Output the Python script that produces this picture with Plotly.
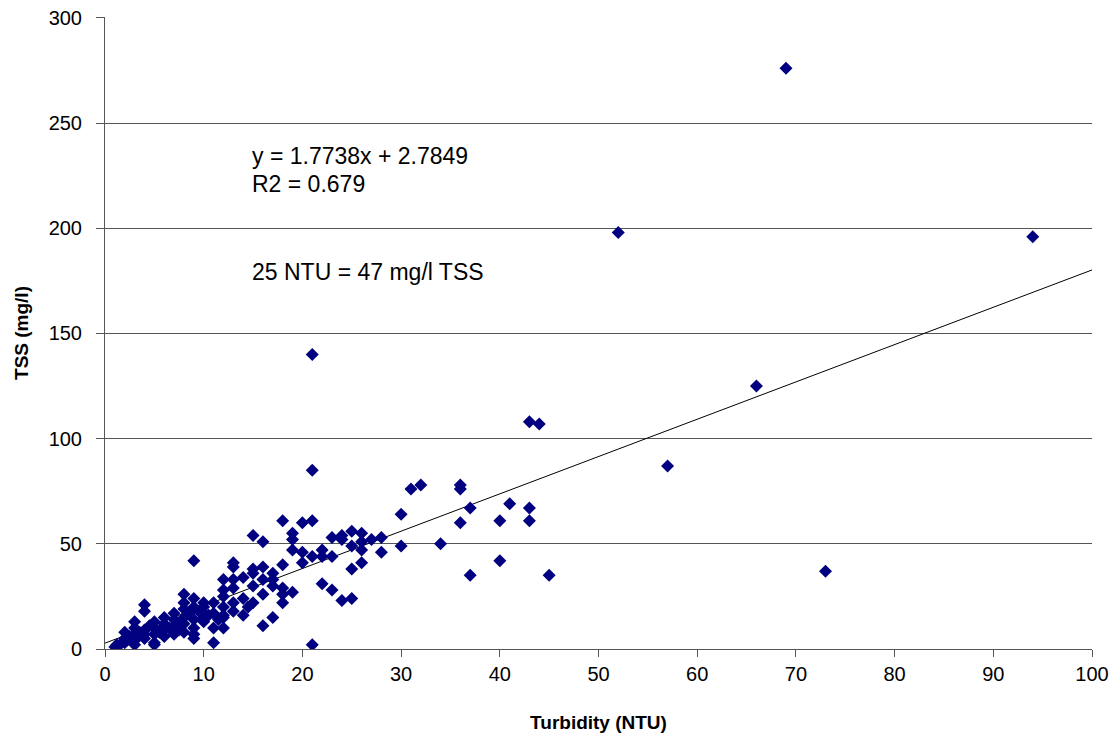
import plotly.graph_objects as go

turbidity = [69, 52, 94, 21, 66, 43, 44, 57, 21, 73, 45, 37, 40, 21, 34, 30, 30, 31, 32, 36, 36, 36, 37, 40, 41, 43, 43,
             15, 16, 18, 20, 21, 19, 19, 19, 20, 20, 21, 22, 22, 23, 24, 24, 25, 26, 26, 26, 27, 28, 28, 23, 25, 25, 26,
             22, 23, 24, 25, 18, 18, 18, 18, 19, 17, 17, 17, 16, 16, 16, 15, 15, 15, 15, 16, 17, 14, 14,
             13, 13, 13, 13, 12, 12, 12, 13, 13, 12, 12, 11, 12, 11, 11, 11, 10, 10, 10, 10,
             9, 9, 9, 9, 9, 9, 9, 8, 8, 8, 8, 8, 8, 7, 7, 7, 7, 6, 6, 6, 6, 5, 5, 5, 5, 5,
             4, 4, 4, 4, 4, 3, 3, 3, 3, 3, 2, 2, 2, 1.5, 1, 2.5, 3.5, 4.5, 6.5, 7.5, 9.5, 10.5, 11.5, 14,
             8.5, 7.5, 5.5, 3.2, 2.2, 1.2, 6, 10, 12, 14.5]
tss = [276, 198, 196, 140, 125, 108, 107, 87, 85, 37, 35, 35, 42, 2, 50, 49, 64, 76, 78, 78, 76, 60, 67, 61, 69, 67, 61,
       54, 51, 61, 60, 61, 55, 52, 47, 46, 41, 44, 47, 44, 53, 54, 52, 56, 55, 51, 47, 52, 53, 46, 44, 49, 38, 41,
       31, 28, 23, 24, 40, 29, 26, 22, 27, 36, 33, 30, 39, 33, 26, 38, 36, 30, 22, 11, 15, 34, 16,
       41, 39, 33, 29, 33, 28, 25, 22, 18, 20, 15, 10, 10, 3, 22, 17, 22, 20, 17, 15,
       42, 24, 20, 14, 10, 7, 5, 26, 22, 19, 15, 12, 8, 17, 14, 11, 7, 15, 12, 9, 6, 13, 10, 7, 3, 2,
       21, 18, 9, 7, 5, 13, 10, 7, 4, 2, 8, 5, 3, 2, 1, 6, 8, 11, 10, 12, 18, 16, 14, 24,
       17, 9, 8, 5, 4, 2, 11, 13, 16, 20]

slope = 1.7738
intercept = 2.7849
trend_x = [0, 100]
trend_y = [intercept + slope * v for v in trend_x]

fig = go.Figure()
fig.add_trace(go.Scatter(x=trend_x, y=trend_y, mode="lines",
                         line=dict(color="black", width=1), showlegend=False, hoverinfo="skip"))
fig.add_trace(go.Scatter(x=turbidity, y=tss, mode="markers",
                         marker=dict(symbol="diamond", size=10, color="#000080"),
                         showlegend=False))

FAMILY = "Liberation Sans, Arial, sans-serif"
ann_font = dict(family=FAMILY, size=23, color="black")

fig.add_annotation(x=14.7, y=234.5, text="y = 1.7738x + 2.7849", showarrow=False, xanchor="left",
                   font=ann_font)
fig.add_annotation(x=14.7, y=221, text="R2 = 0.679", showarrow=False, xanchor="left", font=ann_font)
fig.add_annotation(x=14.7, y=179, text="25 NTU = 47 mg/l TSS", showarrow=False, xanchor="left", font=ann_font)

tick_font = dict(family=FAMILY, size=20, color="black")
title_font = dict(family=FAMILY, size=19, color="black")

fig.update_layout(
    width=1116, height=738,
    margin=dict(l=105, r=24, t=17, b=89, autoexpand=False),
    plot_bgcolor="white", paper_bgcolor="white",
    font=dict(family=FAMILY, size=19, color="black"),
    xaxis=dict(range=[0, 100], tickvals=list(range(0, 101, 10)), showgrid=False, zeroline=False,
               automargin=False,
               showline=True, linecolor="#555555", linewidth=1, ticks="outside", ticklen=7,
               tickcolor="#555555", tickfont=tick_font,
               title=dict(text="<b>Turbidity (NTU)</b>", font=title_font, standoff=31)),
    yaxis=dict(range=[0, 300.4], tickvals=list(range(0, 301, 50)), showgrid=True, gridcolor="#555555",
               gridwidth=1, zeroline=False, showline=True, linecolor="#555555", linewidth=1,
               automargin=False,
               ticks="outside", ticklen=8, tickcolor="#555555", ticklabelstandoff=10,
               tickfont=tick_font,
               title=dict(text="<b>TSS (mg/l)</b>", font=title_font, standoff=14)),
)

fig.write_html("out.html", config={"displayModeBar": False},
               post_script="document.body.style.margin='0';")
